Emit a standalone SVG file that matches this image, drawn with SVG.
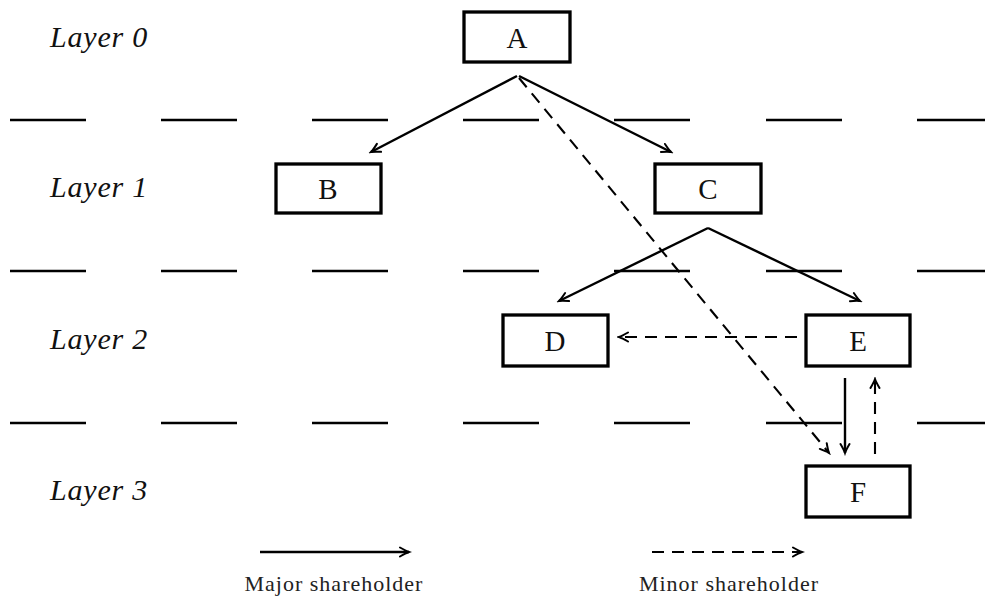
<svg xmlns="http://www.w3.org/2000/svg" width="985" height="597" viewBox="0 0 985 597">
<style>
.box{fill:#fff;stroke:#000;stroke-width:3.3}
.lbl{font-family:"Liberation Serif","DejaVu Serif",serif;font-size:29px;text-anchor:middle;fill:#111}
.layer{font-family:"Liberation Serif","DejaVu Serif",serif;font-size:30px;font-style:italic;letter-spacing:0.8px;fill:#111}
.leg{font-family:"Liberation Serif","DejaVu Serif",serif;font-size:22px;letter-spacing:1px;text-anchor:middle;fill:#222}
.sep{stroke:#000;stroke-width:2.3}
.maj{stroke:#000;stroke-width:2.4;fill:none;marker-end:url(#ah)}
.min{stroke:#000;stroke-width:2.1;fill:none;stroke-dasharray:12 8;marker-end:url(#ah)}
</style>
<defs>
<marker id="ah" markerUnits="userSpaceOnUse" markerWidth="14" markerHeight="12" refX="0" refY="0" viewBox="-11 -6 13 12" orient="auto">
<path d="M-9,-4.5 Q-3,-1 0,0 Q-3,1 -9,4.5" fill="none" stroke="#000" stroke-width="2" stroke-linecap="round" stroke-dasharray="none"/>
</marker>
</defs>
<rect width="985" height="597" fill="#fff"/>
<g id="layers">
<text class="layer" x="50" y="47">Layer 0</text>
<text class="layer" x="50" y="197">Layer 1</text>
<text class="layer" x="50" y="349">Layer 2</text>
<text class="layer" x="50" y="500">Layer 3</text>
</g>
<g id="separators">
<path class="sep" d="M10,120h76M161,120h76M312,120h76M463,120h76M614,120h76M766,120h76M917,120h68"/>
<path class="sep" d="M10,271h76M161,271h76M312,271h76M463,271h76M614,271h76M766,271h76M917,271h68"/>
<path class="sep" d="M10,423h76M161,423h76M312,423h76M463,423h76M614,423h76M766,423h76M917,423h68"/>
</g>
<g id="connectors">
<path class="maj" d="M517,76 L371,152"/>
<path class="maj" d="M519,76 L671,152"/>
<path class="min" d="M519,78 L829,453"/>
<path class="maj" d="M708,228 L559,301"/>
<path class="maj" d="M708,228 L860,301"/>
<path class="min" d="M797,337 L619,337"/>
<path class="maj" d="M845,378 L845,453"/>
<path class="min" d="M875,454 L875,379"/>
</g>
<g id="A"><rect class="box" x="464" y="12" width="106" height="50"/><text class="lbl" x="517" y="48">A</text></g>
<g id="B"><rect class="box" x="276" y="164" width="105" height="49"/><text class="lbl" x="328" y="199">B</text></g>
<g id="C"><rect class="box" x="655" y="164" width="106" height="49"/><text class="lbl" x="708" y="199">C</text></g>
<g id="D"><rect class="box" x="503" y="315" width="105" height="51"/><text class="lbl" x="555" y="351">D</text></g>
<g id="E"><rect class="box" x="806" y="315" width="104" height="51"/><text class="lbl" x="858" y="351">E</text></g>
<g id="F"><rect class="box" x="806" y="466" width="104" height="51"/><text class="lbl" x="858" y="502">F</text></g>
<g id="legend">
<path class="maj" d="M260,552 L409,552"/>
<text class="leg" x="334" y="591">Major shareholder</text>
<path class="min" d="M652,552 L802,552"/>
<text class="leg" x="729" y="591">Minor shareholder</text>
</g>
</svg>
